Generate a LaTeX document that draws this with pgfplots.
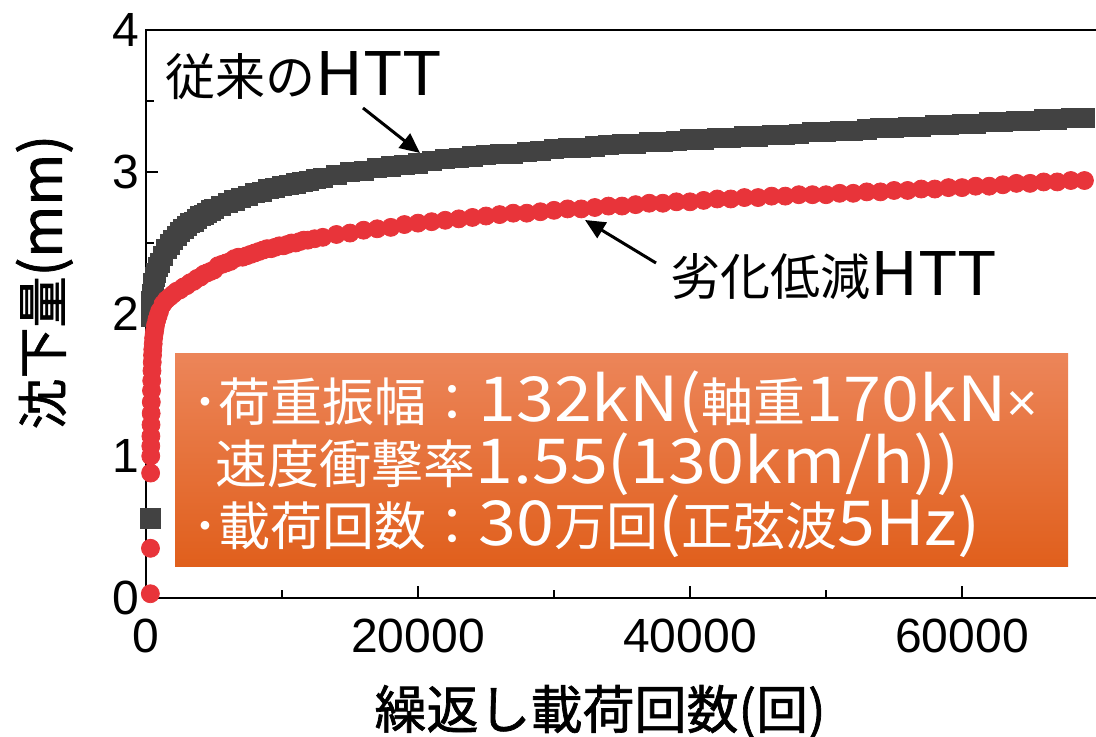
\documentclass[border=0pt]{standalone}
\usepackage{pgfplots}
\pgfplotsset{compat=1.18}
\usepackage{fontspec}
\setmainfont{Liberation Sans}
\newfontfamily\cjk{Noto Sans CJK JP}
\newfontfamily\cjkb[FakeBold=1.3]{Noto Sans CJK JP}
\newfontfamily\lat[FakeStretch=1.1]{Noto Sans CJK JP}
\usetikzlibrary{arrows.meta}

\definecolor{conv}{RGB}{66,66,66}
\definecolor{newhtt}{RGB}{232,52,58}
\definecolor{boxtop}{RGB}{236,133,89}
\definecolor{boxmid}{RGB}{235,110,45}
\definecolor{boxbot}{RGB}{224,95,28}

% Latin runs inside the Japanese text blocks
\newcommand{\bl}[1]{{\lat\fontsize{31}{31}\selectfont #1}}
\newcommand{\hl}[1]{{\lat\fontsize{30}{30}\selectfont #1}}

% settlement of the conventional tie (cycles, mm)
\pgfplotstableread{
x y
330 0.56
345 1.98
360 2.04
390 2.09
430 2.14
480 2.18
550 2.22
650 2.26
750 2.29
870 2.33
1000 2.36
1250 2.41
1500 2.46
1750 2.49
2000 2.52
2250 2.55
2500 2.58
2750 2.60
3000 2.62
3250 2.64
3500 2.65
3750 2.67
4000 2.69
4250 2.70
4500 2.71
4750 2.73
5000 2.74
5500 2.76
6000 2.78
6500 2.80
7000 2.82
7500 2.83
8000 2.85
8500 2.86
9000 2.88
9500 2.89
10000 2.90
10500 2.91
11000 2.92
11500 2.93
12000 2.94
12500 2.95
13000 2.96
14000 2.98
15000 3.00
16000 3.01
17000 3.03
18000 3.04
19000 3.05
20000 3.06
21000 3.08
22000 3.09
23000 3.10
24000 3.11
25000 3.12
26000 3.13
27000 3.13
28000 3.14
29000 3.15
30000 3.16
31000 3.17
32000 3.17
33000 3.18
34000 3.19
35000 3.20
36000 3.20
37000 3.21
38000 3.21
39000 3.22
40000 3.23
41000 3.23
42000 3.24
43000 3.24
44000 3.25
45000 3.25
46000 3.26
47000 3.26
48000 3.27
49000 3.28
50000 3.28
51000 3.29
52000 3.29
53000 3.30
54000 3.31
55000 3.31
56000 3.32
57000 3.32
58000 3.33
59000 3.33
60000 3.34
61000 3.34
62000 3.35
63000 3.35
64000 3.36
65000 3.36
66000 3.37
67000 3.37
68000 3.38
69000 3.38
}\conventional

% settlement of the low-degradation tie (cycles, mm)
\pgfplotstableread{
x y
320 0.03
330 0.35
340 0.88
350 1.00
355 1.07
360 1.14
370 1.22
380 1.30
390 1.38
405 1.46
420 1.53
440 1.60
460 1.66
480 1.71
500 1.75
530 1.79
560 1.83
600 1.86
650 1.89
700 1.92
800 1.96
900 1.99
1000 2.02
1250 2.07
1500 2.10
1750 2.12
2000 2.14
2250 2.16
2500 2.17
2750 2.19
3000 2.20
3250 2.22
3500 2.23
3750 2.25
4000 2.26
4250 2.28
4500 2.29
4750 2.30
5000 2.31
5300 2.34
5600 2.35
5900 2.36
6200 2.37
6500 2.39
6800 2.40
7100 2.40
7400 2.41
7700 2.42
8000 2.43
8300 2.44
8600 2.45
8900 2.46
9200 2.46
9500 2.47
9800 2.48
10100 2.48
10400 2.49
10700 2.50
11000 2.50
11300 2.51
11600 2.52
11900 2.52
12400 2.53
13000 2.54
14000 2.56
15000 2.57
16000 2.59
17000 2.60
18000 2.61
19000 2.63
20000 2.64
21000 2.65
22000 2.66
23000 2.67
24000 2.68
25000 2.69
26000 2.70
27000 2.71
28000 2.71
29000 2.72
30000 2.73
31000 2.74
32000 2.74
33000 2.75
34000 2.76
35000 2.76
36000 2.77
37000 2.78
38000 2.78
39000 2.79
40000 2.79
41000 2.80
42000 2.81
43000 2.81
44000 2.82
45000 2.82
46000 2.83
47000 2.83
48000 2.84
49000 2.84
50000 2.84
51000 2.85
52000 2.85
53000 2.86
54000 2.86
55000 2.87
56000 2.87
57000 2.88
58000 2.88
59000 2.89
60000 2.89
61000 2.90
62000 2.90
63000 2.91
64000 2.92
65000 2.92
66000 2.93
67000 2.93
68000 2.94
69000 2.94
}\lowdeg

\begin{document}
\begin{tikzpicture}
\begin{axis}[
  at={(0,0)}, anchor=south west,
  scale only axis, width=475pt, height=284pt,
  xmin=0, xmax=69850, ymin=0, ymax=4,
  clip=false,
  axis line style={draw=none},
  xtick={0,20000,40000,60000},
  minor xtick={10000,30000,50000},
  ytick={0,1,2,3,4},
  minor ytick={0.5,1.5,2.5,3.5},
  tick align=inside, xtick pos=bottom, ytick pos=left,
  major tick length=6pt, minor tick length=4pt,
  every tick/.style={black, line width=1.3pt},
  scaled x ticks=false,
  /pgf/number format/.cd, set thousands separator={}, assume math mode=true, /pgfplots/.cd,
  tick label style={font=\fontsize{24}{24}\selectfont, black},
  xticklabel style={yshift=-7pt},
  xlabel={繰返し載荷回数(回)},
  ylabel={沈下量{\fontsize{28}{28}\selectfont(mm)}},
  xlabel style={font=\cjkb\fontsize{26}{26}\selectfont,
    at={(axis description cs:0.478,-0.2007)}, anchor=center},
  ylabel style={font=\cjkb\fontsize{25.5}{25.5}\selectfont,
    at={(axis description cs:-0.107,0.556)}, anchor=center},
]
\addplot[only marks, mark=square*, mark size=4.8pt, color=conv] table {\conventional};
\addplot[only marks, mark=*, mark size=4.5pt, color=newhtt] table {\lowdeg};
% frame: left, bottom and top edges
\draw[black, line width=1.3pt] (rel axis cs:1,1) -- (rel axis cs:0,1) -- (rel axis cs:0,0) -- (rel axis cs:1,0);
\end{axis}

% test-condition box
\shade[top color=boxtop, middle color=boxmid, bottom color=boxbot] (14.5pt,15.5pt) rectangle (461pt,122pt);
\begin{scope}[every node/.style={inner sep=0pt, text=white, font=\cjk\fontsize{26}{26}\selectfont}]
\node[anchor=base west] at (23pt,88pt) {･荷重振幅：\bl{132kN(}軸重\bl{170kN}{\rmfamily\fontsize{27}{27}\selectfont ×}};
\node[anchor=base west] at (34.5pt,57pt) {速度衝撃率\bl{1.55(130km/h))}};
\node[anchor=base west] at (23pt,26pt) {･載荷回数：\bl{30}万回\bl{(}正弦波\bl{5Hz)}};
\end{scope}

% series callouts
\node[anchor=base west, inner sep=0pt, font=\cjk\fontsize{25}{25}\selectfont] at (9.5pt,251pt) {従来の\hl{HTT}};
\node[anchor=base west, inner sep=0pt, font=\cjk\fontsize{25}{25}\selectfont] at (262pt,151pt) {劣化低減\hl{HTT}};
\draw[line width=1.5pt, -{Triangle[length=10pt,width=9pt]}] (108.5pt,245pt) -- (137pt,222.5pt);
\draw[line width=1.5pt, -{Triangle[length=10pt,width=9pt]}] (255pt,167.5pt) -- (219.5pt,189pt);

\pgfresetboundingbox
\path (-73pt,-69.5pt) rectangle (475pt,299pt);
\end{tikzpicture}
\end{document}
